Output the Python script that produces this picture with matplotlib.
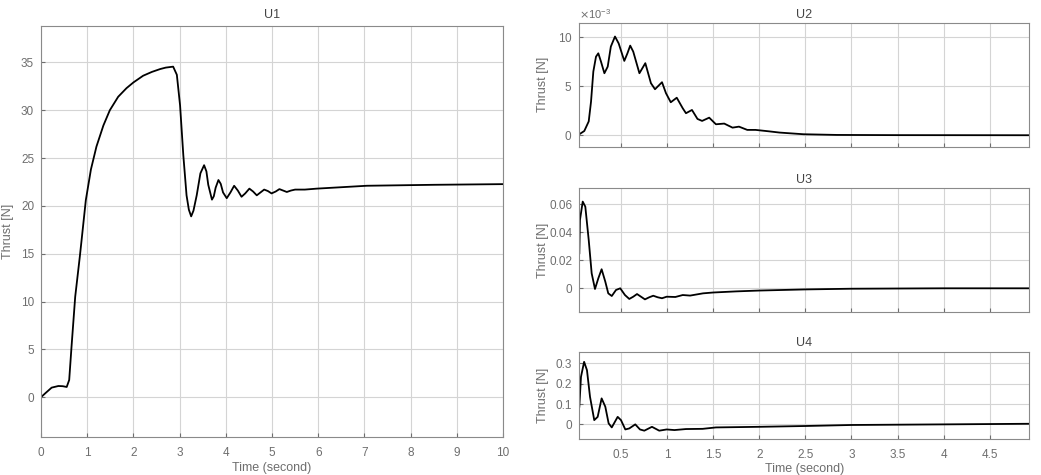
import matplotlib
matplotlib.use("Agg")
import matplotlib.pyplot as plt

plt.rcParams["font.family"] = ["Liberation Sans", "DejaVu Sans"]

# U1 - thrust (N) over 0..10 s
t1 = [0, 0.09, 0.23, 0.375, 0.47, 0.556, 0.61, 0.66, 0.74, 0.84, 0.88, 0.97, 1.08, 1.2, 1.35, 1.49, 1.67, 1.85,
      2.0, 2.21, 2.4, 2.58, 2.7, 2.86, 2.94, 3.01, 3.08, 3.15, 3.2, 3.25, 3.3, 3.37, 3.45, 3.53, 3.58, 3.62,
      3.7, 3.74, 3.78, 3.84, 3.89, 3.94, 4.02, 4.1, 4.18, 4.26, 4.34, 4.42, 4.51, 4.59, 4.67, 4.75, 4.83, 4.91,
      4.99, 5.08, 5.16, 5.24, 5.32, 5.41, 5.5, 5.71, 5.97, 7.05, 8.5, 10.0]
u1 = [0, 0.4, 1.0, 1.17, 1.15, 1.07, 1.8, 5.25, 10.5, 14.7, 16.5, 20.6, 23.8, 26.2, 28.4, 30.0, 31.4, 32.3,
      32.9, 33.6, 34.0, 34.3, 34.45, 34.55, 33.7, 30.5, 25.3, 21.1, 19.6, 18.9, 19.5, 21.1, 23.4, 24.25, 23.6, 22.2,
      20.65, 21.0, 21.9, 22.7, 22.3, 21.4, 20.8, 21.4, 22.1, 21.6, 20.95, 21.3, 21.8, 21.5, 21.1, 21.4, 21.7, 21.55,
      21.3, 21.5, 21.75, 21.6, 21.45, 21.6, 21.7, 21.7, 21.8, 22.1, 22.2, 22.27]

# U2 - thrust (N), 0.05..4.93 s
t2 = [0.048, 0.102, 0.15, 0.175, 0.2, 0.229, 0.254, 0.283, 0.32, 0.356, 0.39, 0.435, 0.475, 0.536, 0.57, 0.6,
      0.633, 0.7, 0.764, 0.825, 0.869, 0.945, 0.988, 1.04, 1.105, 1.17, 1.205, 1.27, 1.33, 1.38, 1.457, 1.53,
      1.62, 1.71, 1.78, 1.87, 1.96, 2.1, 2.22, 2.48, 2.84, 3.5, 4.93]
u2 = [0.1e-3, 0.43e-3, 1.4e-3, 3.4e-3, 6.45e-3, 7.96e-3, 8.3e-3, 7.46e-3, 6.28e-3, 6.95e-3, 8.98e-3, 10.0e-3,
      9.3e-3, 7.53e-3, 8.3e-3, 9.08e-3, 8.47e-3, 6.28e-3, 7.3e-3, 5.27e-3, 4.66e-3, 5.37e-3, 4.26e-3, 3.34e-3,
      3.8e-3, 2.73e-3, 2.23e-3, 2.56e-3, 1.65e-3, 1.45e-3, 1.78e-3, 1.11e-3, 1.18e-3, 0.77e-3, 0.87e-3, 0.54e-3,
      0.54e-3, 0.4e-3, 0.27e-3, 0.1e-3, 0.03e-3, 0.01e-3, 0]

# U3
t3 = [0.048, 0.055, 0.085, 0.113, 0.15, 0.182, 0.218, 0.254, 0.29, 0.33, 0.362, 0.4, 0.446, 0.492, 0.543, 0.59,
      0.633, 0.674, 0.717, 0.76, 0.807, 0.85, 0.898, 0.945, 0.996, 1.09, 1.17, 1.25, 1.39, 1.5, 1.75, 2.0, 2.5,
      3.0, 4.0, 4.93]
u3 = [0.025, 0.0488, 0.0619, 0.0583, 0.0345, 0.0107, -0.0005, 0.0071, 0.0136, 0.0047, -0.0036, -0.0055, -0.0012,
      0, -0.0048, -0.0076, -0.006, -0.0041, -0.006, -0.0079, -0.0064, -0.0053, -0.0064, -0.0071, -0.006, -0.0062,
      -0.0048, -0.0052, -0.0036, -0.003, -0.0022, -0.0016, -0.0008, -0.0003, 0, 0]

# U4
t4 = [0.048, 0.066, 0.1, 0.131, 0.164, 0.21, 0.247, 0.29, 0.33, 0.366, 0.4, 0.464, 0.5, 0.547, 0.59, 0.655,
      0.706, 0.753, 0.836, 0.915, 0.996, 1.08, 1.205, 1.386, 1.53, 2.0, 2.5, 3.0, 4.0, 4.93]
u4 = [0.087, 0.234, 0.308, 0.267, 0.136, 0.021, 0.037, 0.128, 0.087, 0.005, -0.015, 0.037, 0.021, -0.025, -0.02,
      0, -0.025, -0.031, -0.012, -0.031, -0.025, -0.028, -0.023, -0.022, -0.015, -0.012, -0.008, -0.003, 0, 0.003]

gray = "#6e6e6e"
fs = 8.5
line_kw = dict(color="black", linewidth=1.3, solid_joinstyle="round")

fig = plt.figure(figsize=(10.41, 4.75), dpi=100)


def style(ax, title, tpad, ylx):
    ax.grid(True, color="#d4d4d4", linewidth=0.8)
    ax.set_axisbelow(True)
    ax.tick_params(direction="in", length=3, colors=gray, labelsize=fs, labelcolor=gray)
    ax.tick_params(axis="x", pad=7)
    ax.tick_params(axis="y", pad=5)
    for s in ax.spines.values():
        s.set_color("#8a8a8a")
        s.set_linewidth(0.8)
    ax.set_title(title, fontsize=fs + 0.5, color="#444444", pad=tpad)
    ax.set_ylabel("Thrust [N]", fontsize=fs + 0.5, color=gray)
    ax.yaxis.set_label_coords(ylx, 0.5)


ax1 = fig.add_axes([0.0394, 0.08, 0.4438, 0.8653])
ax1.plot(t1, u1, **line_kw)
ax1.set_xlim(0, 10)
ax1.set_ylim(-4.16, 38.8)
ax1.set_xticks(range(0, 11))
ax1.set_yticks(range(0, 36, 5))
ax1.set_xlabel("Time (second)", fontsize=fs + 0.5, color=gray)
ax1.xaxis.set_label_coords(0.5, -0.062)
style(ax1, "U1", 5.8, -0.058)

rx0, rw = 0.5565, 0.4323
xt = [0.5, 1, 1.5, 2, 2.5, 3, 3.5, 4, 4.5]

ax2 = fig.add_axes([rx0, 0.6912, rw, 0.261])
ax2.plot(t2, u2, **line_kw)
ax2.set_xlim(0.048, 4.93)
ax2.set_ylim(-1.16e-3, 11.4e-3)
ax2.set_xticks(xt)
ax2.set_xticklabels([])
ax2.set_yticks([0, 5e-3, 10e-3])
ax2.ticklabel_format(axis="y", style="sci", scilimits=(-3, -3), useMathText=True)
ax2.yaxis.get_offset_text().set_fontsize(fs - 0.5)
ax2.yaxis.get_offset_text().set_color(gray)
style(ax2, "U2", 3.4, -0.067)

ax3 = fig.add_axes([rx0, 0.3438, rw, 0.2598])
ax3.plot(t3, u3, **line_kw)
ax3.set_xlim(0.048, 4.93)
ax3.set_ylim(-0.0167, 0.0714)
ax3.set_xticks(xt)
ax3.set_xticklabels([])
ax3.set_yticks([0, 0.02, 0.04, 0.06])
ax3.set_yticklabels(["0", "0.02", "0.04", "0.06"])
style(ax3, "U3", 3.8, -0.067)

ax4 = fig.add_axes([rx0, 0.0758, rw, 0.1825])
ax4.plot(t4, u4, **line_kw)
ax4.set_xlim(0.048, 4.93)
ax4.set_ylim(-0.072, 0.355)
ax4.set_xticks(xt)
ax4.set_xticklabels(["0.5", "1", "1.5", "2", "2.5", "3", "3.5", "4", "4.5"])
ax4.set_yticks([0, 0.1, 0.2, 0.3])
ax4.set_yticklabels(["0", "0.1", "0.2", "0.3"])
ax4.set_xlabel("Time (second)", fontsize=fs + 0.5, color=gray)
ax4.xaxis.set_label_coords(0.5, -0.28)
style(ax4, "U4", 4.5, -0.067)

fig.savefig("out.png", dpi=100)
